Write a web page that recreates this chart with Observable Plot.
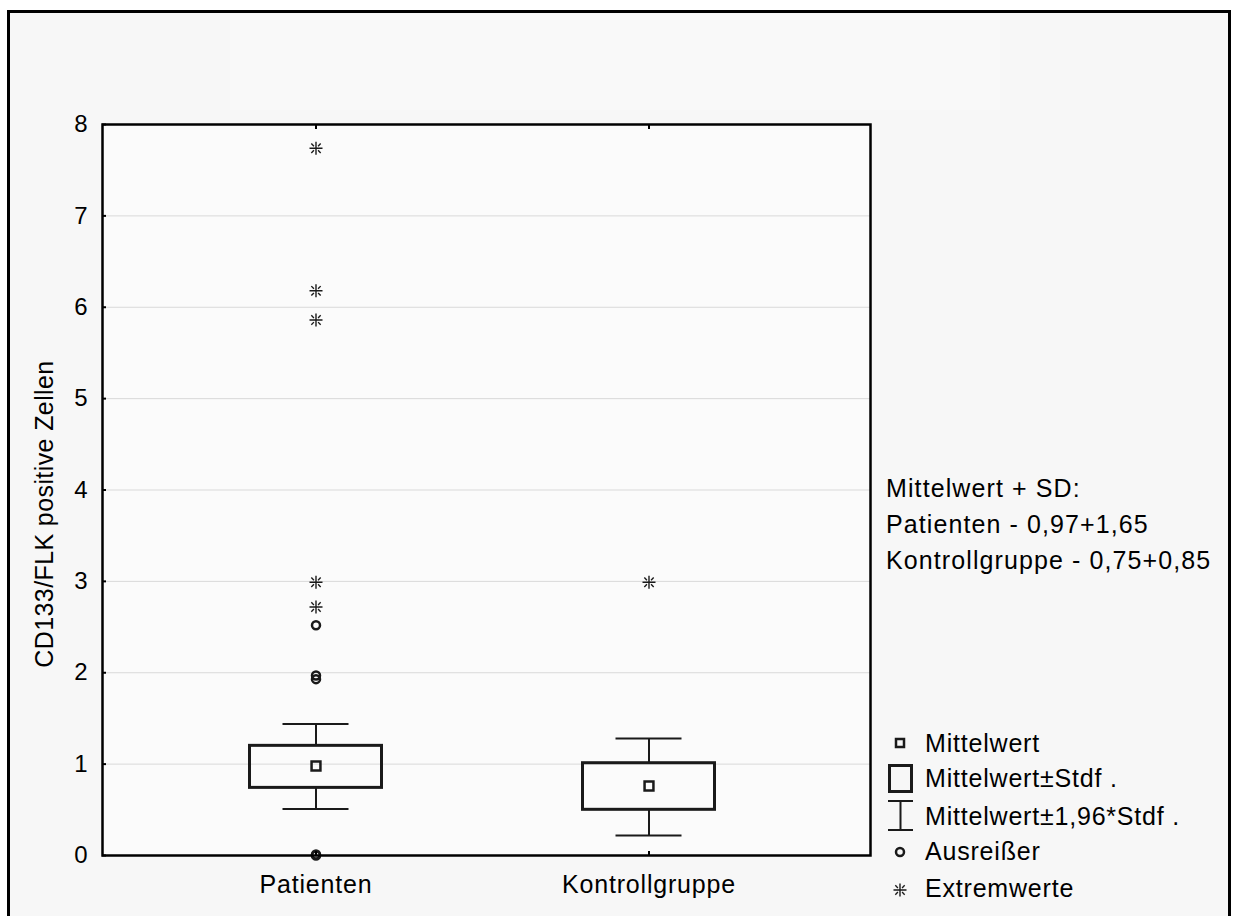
<!DOCTYPE html>
<html><head><meta charset="utf-8">
<script src="https://cdn.jsdelivr.net/npm/d3@7"></script>
<script src="https://cdn.jsdelivr.net/npm/@observablehq/plot@0.6"></script>
<style>
body{margin:0;background:#fff;width:1233px;height:916px;overflow:hidden;position:relative;font-family:"Liberation Sans",Arial,sans-serif;}
#frame{position:absolute;left:7px;top:10px;width:1218px;height:920px;border:3px solid #000;border-bottom:none;background:#f7f7f7;}
#titlebox{position:absolute;left:230px;top:14px;width:770px;height:96px;background:#f9f9f9;}
#chart{position:absolute;left:0;top:0;}
#overlay{position:absolute;left:0;top:0;}
</style></head><body>
<div id="frame"></div><div id="titlebox"></div>
<div id="chart"></div>
<svg id="overlay" width="1233" height="916"></svg>
<script>
// ---- data ----
const groups = ["Patienten", "Kontrollgruppe"];
const means = [0.98, 0.76];
const boxLow = [0.74, 0.50];
const boxHigh = [1.20, 1.01];
const whiskerLow = [0.51, 0.22];
const whiskerHigh = [1.44, 1.28];
const outlierGroups = ["Patienten", "Patienten", "Patienten", "Patienten", "Patienten"];
const outlierValues = [2.52, 1.97, 1.93, 0.0, 0.01];
const extremeGroups = ["Patienten", "Patienten", "Patienten", "Patienten", "Patienten", "Kontrollgruppe"];
const extremeValues = [7.74, 6.18, 5.86, 2.99, 2.72, 2.99];
const yTicks = [0, 1, 2, 3, 4, 5, 6, 7, 8];
const yLabel = "CD133/FLK positive Zellen";
const noteLines = ["Mittelwert + SD:", "Patienten - 0,97+1,65", "Kontrollgruppe - 0,75+0,85"];
const legendLabels = ["Mittelwert", "Mittelwert±Stdf .", "Mittelwert±1,96*Stdf .", "Ausreißer", "Extremwerte"];

// ---- tables ----
const boxes = groups.map((g, i) => ({group: g, mean: means[i], lo: boxLow[i], hi: boxHigh[i], wlo: whiskerLow[i], whi: whiskerHigh[i]}));
const outliers = outlierValues.map((v, i) => ({group: outlierGroups[i], value: v}));
const extremes = extremeValues.map((v, i) => ({group: extremeGroups[i], value: v}));

const INK = "#1a1a1a";
const FONT = '"Liberation Sans", Arial, sans-serif';

const asterisk = {
  draw(ctx, size) {
    const r = Math.sqrt(size / Math.PI);
    ctx.moveTo(-r, 0); ctx.lineTo(r, 0);
    ctx.moveTo(0, -r); ctx.lineTo(0, r);
    const a = r * 0.72, b = r * 0.32;
    ctx.moveTo(-a, -a); ctx.lineTo(-b, -b);
    ctx.moveTo(a, a); ctx.lineTo(b, b);
    ctx.moveTo(a, -a); ctx.lineTo(b, -b);
    ctx.moveTo(-a, a); ctx.lineTo(-b, b);
  }
};

const chart = Plot.plot({
  width: 1233, height: 916,
  marginLeft: 102, marginRight: 363, marginTop: 124, marginBottom: 61,
  style: {background: "transparent", fontFamily: FONT, color: "#000", letterSpacing: "0.8px"},
  x: {type: "band", domain: groups, paddingInner: 0, paddingOuter: 0.15, align: 0.46, label: null},
  y: {domain: [0, 8], label: null},
  marks: [
    Plot.frame({fill: "#fbfbfb", stroke: null}),
    Plot.gridY(yTicks.slice(1, -1), {stroke: "#d9d9d9", strokeOpacity: 1, strokeWidth: 1}),
    Plot.ruleX(boxes, {x: "group", y1: "wlo", y2: "lo", stroke: INK, strokeWidth: 2}),
    Plot.ruleX(boxes, {x: "group", y1: "hi", y2: "whi", stroke: INK, strokeWidth: 2}),
    Plot.tickY(boxes, {x: "group", y: "wlo", insetLeft: 133.5, insetRight: 133.5, stroke: INK, strokeWidth: 2}),
    Plot.tickY(boxes, {x: "group", y: "whi", insetLeft: 133.5, insetRight: 133.5, stroke: INK, strokeWidth: 2}),
    Plot.barY(boxes, {x: "group", y1: "lo", y2: "hi", insetLeft: 100.5, insetRight: 100.5, fill: "none", stroke: INK, strokeWidth: 3}),
    Plot.dot(boxes, {x: "group", y: "mean", symbol: "square", r: 5, stroke: INK, strokeWidth: 2.5, fill: "none"}),
    Plot.dot(outliers, {x: "group", y: "value", r: 4, stroke: INK, strokeWidth: 2.5, fill: "none"}),
    Plot.dot(extremes, {x: "group", y: "value", symbol: asterisk, r: 6.5, stroke: INK, strokeWidth: 1.4}),
    Plot.axisY(yTicks, {tickSize: 0, tickPadding: 14, fontSize: 24, tickFormat: d => String(d), label: null}),
    Plot.axisY(yTicks, {tickSize: -4, tickFormat: () => "", label: null, strokeWidth: 2}),
    Plot.axisX({anchor: "bottom", tickSize: 0, tickPadding: 20, fontSize: 25, label: null}),
    Plot.axisX({anchor: "bottom", tickSize: -4, tickFormat: () => "", label: null, strokeWidth: 2}),
    Plot.axisX({anchor: "top", tickSize: -4, tickFormat: () => "", label: null, strokeWidth: 2}),
    Plot.frame({stroke: "#000", strokeWidth: 2.5})
  ]
});
document.getElementById("chart").append(chart);

// ---- overlay texts and legend ----
const ov = d3.select("#overlay").style("font-family", FONT).style("letter-spacing", "0.8px");
ov.append("text").attr("transform", "translate(53,514) rotate(-90)")
  .attr("text-anchor", "middle").attr("font-size", 25).style("letter-spacing", "0.4px").attr("fill", "#000").text(yLabel);

const noteBase = [497, 533, 569];
noteLines.forEach((t, i) => ov.append("text").attr("x", 886).attr("y", noteBase[i]).attr("font-size", 25).style("letter-spacing", "1.1px").attr("fill", "#000").text(t));

const legBase = [752, 787, 825, 860, 897];
legendLabels.forEach((t, i) => ov.append("text").attr("x", 925).attr("y", legBase[i]).attr("font-size", 25).attr("fill", "#000").text(t));

const g = ov.append("g").attr("stroke", INK).attr("fill", "none");
g.append("rect").attr("x", 896).attr("y", 739).attr("width", 8).attr("height", 8).attr("stroke-width", 2.5);
g.append("rect").attr("x", 889.5).attr("y", 765.5).attr("width", 22).attr("height", 26).attr("stroke-width", 3);
g.append("path").attr("d", "M888,801H913M900.5,801V830M888,830H913").attr("stroke-width", 2);
g.append("circle").attr("cx", 900).attr("cy", 852).attr("r", 4).attr("stroke-width", 2.5);
const p = d3.path(); asterisk.draw(p, Math.PI * 6.5 * 6.5);
g.append("path").attr("d", p.toString()).attr("transform", "translate(900,890)").attr("stroke-width", 1.4);
</script>
</body></html>
